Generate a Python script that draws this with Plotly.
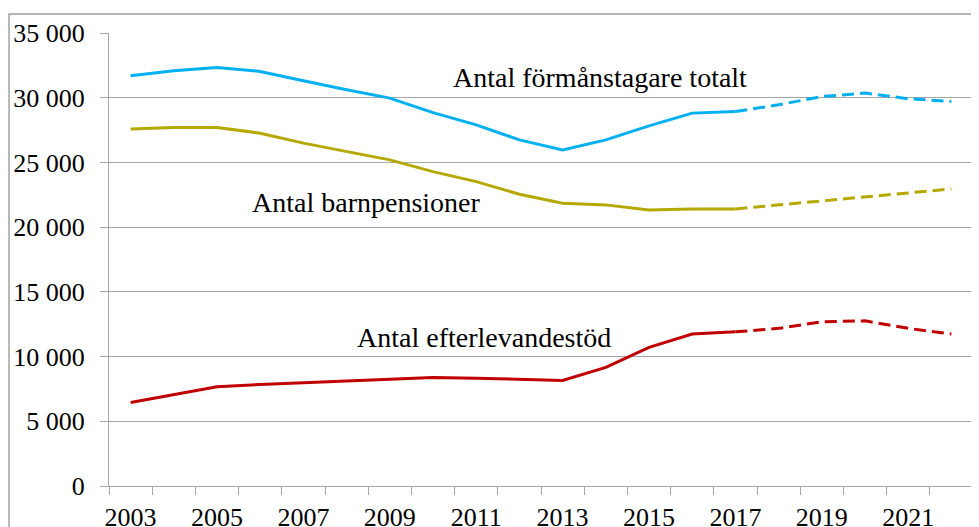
import plotly.graph_objects as go

# År och värden (prognos från 2017)
years = list(range(2003, 2023))
totalt = [31700, 32080, 32340, 32030, 31310, 30610, 29970, 28850, 27900, 26740,
          25970, 26740, 27820, 28810, 28930, 29450, 30090, 30360, 29920, 29710]
barnpension = [27590, 27700, 27700, 27260, 26490, 25840, 25200, 24290, 23520, 22540,
               21850, 21720, 21330, 21410, 21410, 21720, 22030, 22310, 22620, 22950]
efterlevande = [6450, 7070, 7660, 7840, 7970, 8100, 8230, 8390, 8330, 8230,
                8150, 9160, 10710, 11740, 11910, 12180, 12690, 12760, 12180, 11740]
split_year = 2017
tick_years = list(range(2003, 2022, 2))

labels = ["Antal förmånstagare totalt", "Antal barnpensioner", "Antal efterlevandestöd"]
series = [totalt, barnpension, efterlevande]
colors = ["#00B0F0", "#B5A800", "#C00000"]

FONT = "Liberation Serif, Times New Roman, serif"
GRID = "#A6A6A6"

k = years.index(split_year)
fig = go.Figure()
for name, vals, col in zip(labels, series, colors):
    # utfall
    fig.add_trace(go.Scatter(x=years[:k + 1], y=vals[:k + 1], mode="lines",
                             line=dict(color=col, width=3), name=name))
    # prognos
    fig.add_trace(go.Scatter(x=years[k:], y=vals[k:], mode="lines",
                             line=dict(color=col, width=3, dash="12px,6px"),
                             name=name + " (prognos)"))

# etiketter vid linjerna
label_pos = [(2013.86, 31540), (2008.44, 21870), (2011.17, 11500)]
for text, (ax, ay) in zip(labels, label_pos):
    fig.add_annotation(x=ax, y=ay, text=text, showarrow=False,
                       xanchor="center", yanchor="middle",
                       font=dict(family=FONT, size=28, color="black"))

# sidan har 8 px marginal, så figuren görs lite mindre
fig.update_layout(
    width=971, height=519,
    margin=dict(l=101, r=6, t=25, b=41),
    paper_bgcolor="white", plot_bgcolor="white",
    showlegend=False,
    separators=", ",
    font=dict(family=FONT, size=26, color="black"),
    shapes=[dict(type="rect", xref="paper", yref="paper",
                 x0=-0.1157, x1=1.03, y0=-0.2, y1=1.042,
                 line=dict(color="#A0A0A0", width=1.5), layer="below")],
)

fig.update_xaxes(
    range=[2002.5, 2022.5], automargin=False,
    tickvals=tick_years, ticktext=[str(y) for y in tick_years],
    ticks="", ticklabelstandoff=8,
    showgrid=False, zeroline=False,
    showline=True, linecolor=GRID, linewidth=1,
    minor=dict(tick0=2002.5, dtick=1, ticks="outside", ticklen=8,
               tickcolor=GRID, showgrid=False),
    tickfont=dict(family=FONT, size=26, color="black"),
)
fig.update_yaxes(
    range=[0, 35000], dtick=5000, tickformat=",d", automargin=False,
    showgrid=True, gridcolor=GRID, gridwidth=1,
    zeroline=False, showline=True, linecolor=GRID, linewidth=1,
    ticks="outside", ticklen=8, tickcolor=GRID, ticklabelstandoff=10,
    tickfont=dict(family=FONT, size=26, color="black"),
)

fig.write_html("out.html")
